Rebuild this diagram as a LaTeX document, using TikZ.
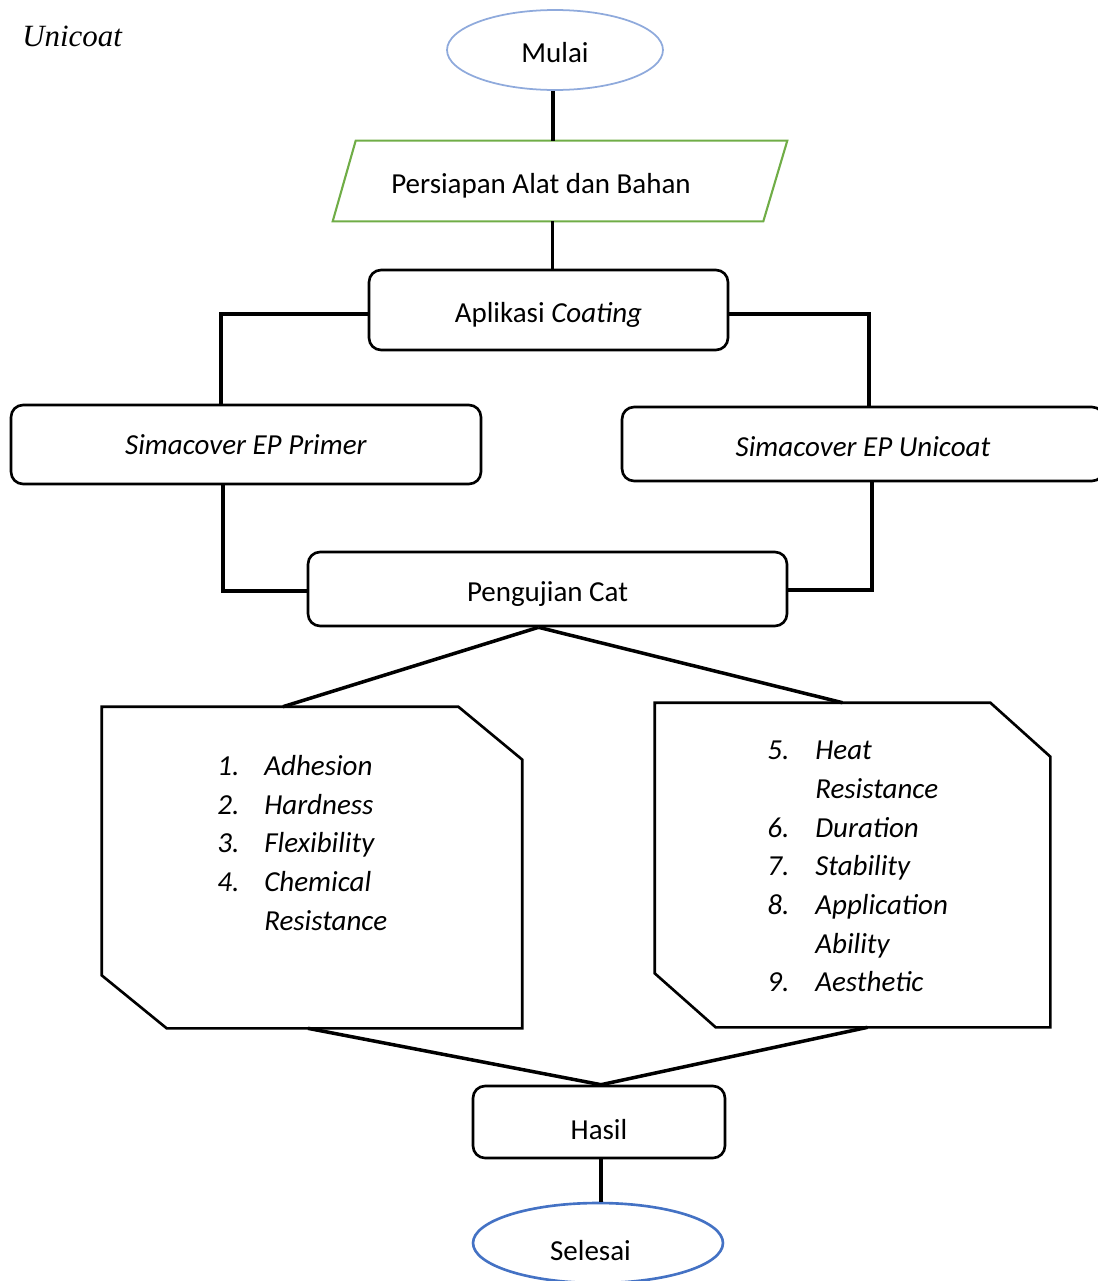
\documentclass[tikz,border=0pt]{standalone}
\usepackage{fontspec}
\setmainfont{Carlito}
\newfontfamily\timesit{Liberation Serif}
\usetikzlibrary{shapes.geometric,calc}

\definecolor{startblue}{HTML}{8FAADC}
\definecolor{endblue}{HTML}{4472C4}
\definecolor{prepgreen}{HTML}{70AD47}

\tikzset{
  stepbox/.style={draw, line width=1.5pt, rounded corners=0.24cm},
  textlow/.style={text height=0.62cm, text depth=0.12cm},
  textlower/.style={text height=0.7cm, text depth=0cm},
  link/.style={line width=2pt},
  listbox/.style={inner sep=0pt},
  listtext/.style={anchor=west, inner sep=0pt, font=\fontsize{16.5}{22}\selectfont\itshape}
}

\begin{document}
\begin{tikzpicture}[x=0.02cm, y=-0.02cm, every node/.append style={font=\fontsize{16.5}{22}\selectfont}]
    \useasboundingbox (0,0) rectangle (1098,1281);

    % title
    \node[anchor=west, inner sep=0pt, font=\fontsize{17.6}{20}\timesit\itshape] (title) at (22,36) {Unicoat};

    % main flow
    \node[draw=startblue, line width=1pt, ellipse, textlow, minimum width=4.32cm, minimum height=1.6cm] (mulai) at (555,50) {Mulai};
    \node[textlow, minimum width=9.08cm, minimum height=1.6cm] (prep) at (560,181) {\hspace*{-0.76cm}Persiapan Alat dan Bahan};
    \draw[prepgreen, line width=1.2pt] (prep.south west) -- ($(prep.south east)+(-24,0)$) -- (prep.north east)
        -- ($(prep.north west)+(23,0)$) -- cycle;
    \node[stepbox, textlow, minimum width=7.18cm, minimum height=1.6cm] (apl) at (548.5,310) {Aplikasi \textit{Coating}};
    \node[stepbox, minimum width=9.4cm, minimum height=1.58cm] (primer) at (246,444.5) {\textit{Simacover EP Primer}};
    \node[stepbox, textlow, minimum width=9.64cm, minimum height=1.48cm] (unicoat) at (863,444) {\textit{Simacover EP Unicoat}};
    \node[stepbox, textlow, minimum width=9.58cm, minimum height=1.48cm] (peng) at (547.5,589) {Pengujian Cat};
    \node[stepbox, textlower, minimum width=5.04cm, minimum height=1.44cm] (hasil) at (599,1122) {Hasil};
    \node[draw=endblue, line width=1.5pt, ellipse, textlower, minimum width=5cm, minimum height=1.6cm] (selesai) at (598,1243) {\hspace*{-0.3cm}Selesai};

    % test lists
    \node[listbox, minimum width=8.4cm, minimum height=6.42cm] (lbox) at (312,867.5) {};
    \draw[line width=1.5pt] (lbox.north west) -- ($(lbox.north east)+(-64,0)$) -- ($(lbox.north east)+(0,53)$)
        -- (lbox.south east) -- ($(lbox.south west)+(65,0)$) -- ($(lbox.south west)+(0,-53)$) -- cycle;
    \node[listbox, minimum width=7.9cm, minimum height=6.48cm] (rbox) at (852.5,865) {};
    \draw[line width=1.5pt] (rbox.north west) -- ($(rbox.north east)+(-60,0)$) -- ($(rbox.north east)+(0,54)$)
        -- (rbox.south east) -- ($(rbox.south west)+(61,0)$) -- ($(rbox.south west)+(0,-54)$) -- cycle;

    \node[listtext] (llist) at (217,845) {\begin{tabular}{@{}p{0.94cm}@{}l@{}}
        1. & Adhesion\\ 2. & Hardness\\ 3. & Flexibility\\ 4. & Chemical\\ & Resistance\end{tabular}};
    \node[listtext] (rlist) at (767,868) {\begin{tabular}{@{}p{0.96cm}@{}l@{}}
        5. & Heat\\ & Resistance\\ 6. & Duration\\ 7. & Stability\\ 8. & Application\\ & Ability\\ 9. & Aesthetic\end{tabular}};

    % connectors
    \coordinate (split) at ($(peng.south)+(-9,0)$);
    \coordinate (join) at ($(hasil.north)+(2,0)$);
    \draw[link] ($(mulai.south)+(-2,0)$) -- ($(mulai.south |- prep.north)+(-2,0)$);
    \draw[link] ($(apl.north |- prep.south)+(4,0)$) -- ($(apl.north)+(4,0)$);
    \draw[link] ($(apl.west)+(0,4)$) -| ($(primer.north)+(-25,0)$);
    \draw[link] ($(apl.east)+(0,4)$) -| ($(unicoat.north)+(6,0)$);
    \draw[link] ($(primer.south)+(-23,0)$) |- ($(peng.west)+(0,2)$);
    \draw[link] ($(unicoat.south)+(9,0)$) |- ($(peng.east)+(0,1)$);
    \draw[link] (split) -- ($(lbox.north)+(-29,0)$);
    \draw[link] (split) -- ($(rbox.north)+(-10,0)$);
    \draw[link] ($(lbox.south)+(-4,0)$) -- (join);
    \draw[link] ($(rbox.south)+(15,0)$) -- (join);
    \draw[link] ($(hasil.south)+(2,0)$) -- ($(hasil.south |- selesai.north)+(2,0)$);
\end{tikzpicture}
\end{document}
